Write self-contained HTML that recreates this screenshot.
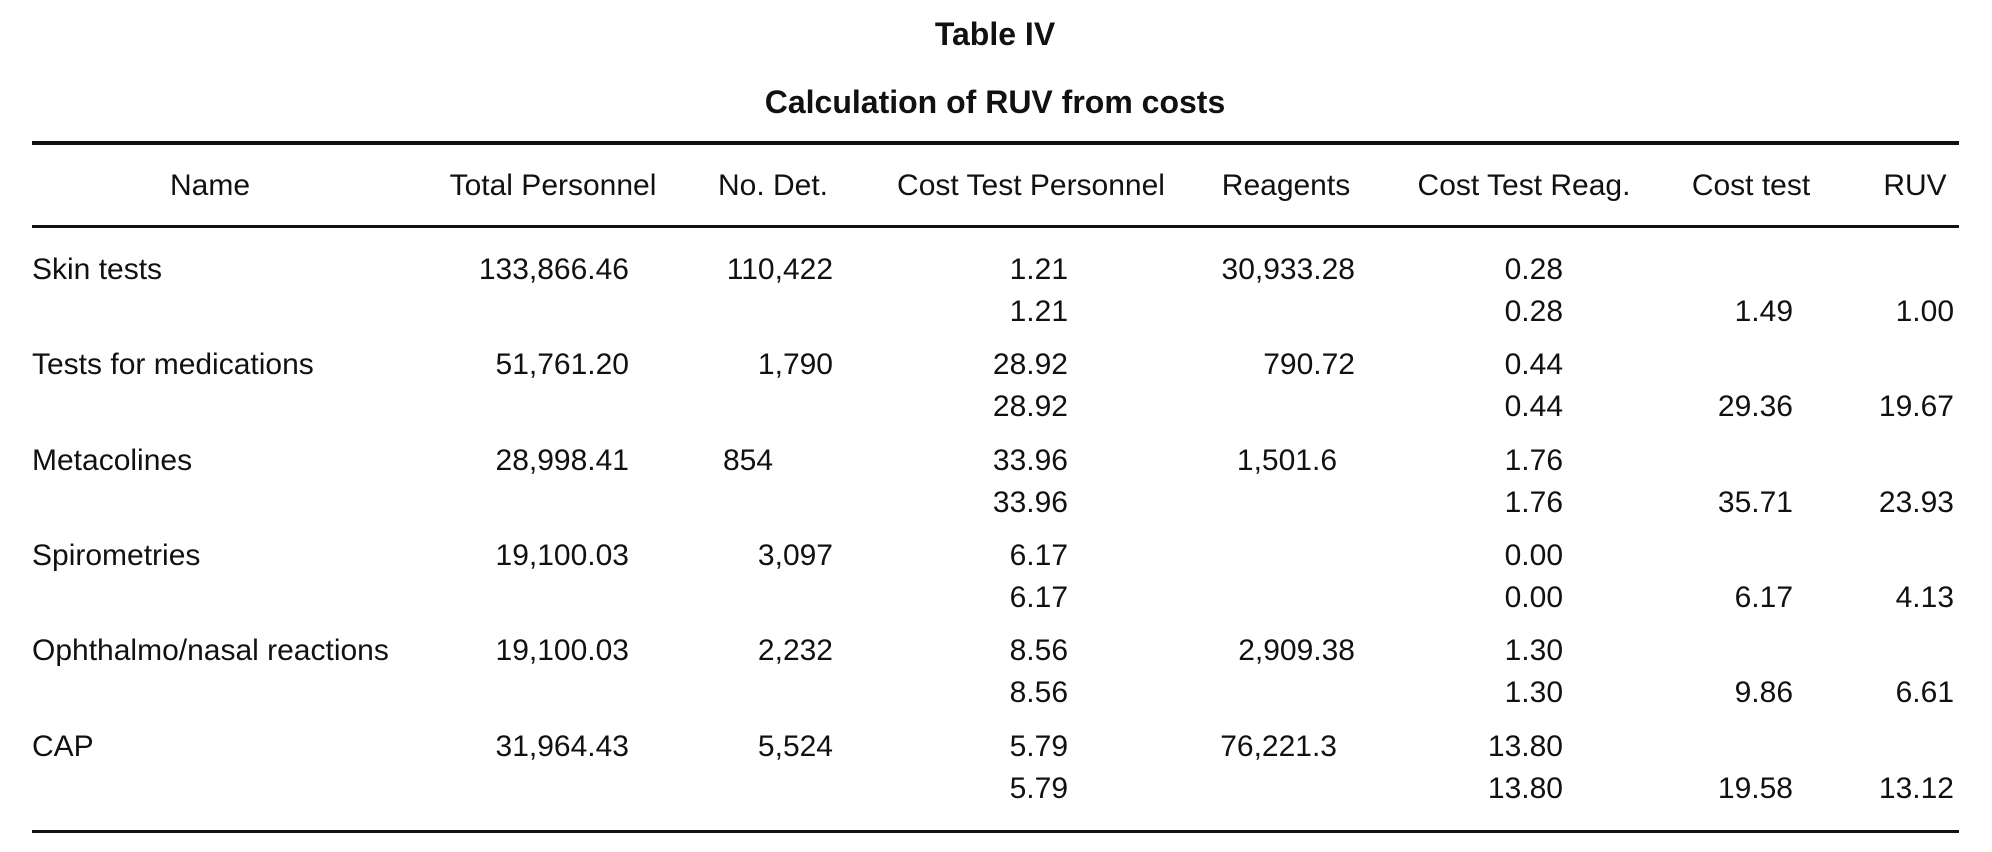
<!DOCTYPE html>
<html><head><meta charset="utf-8"><style>
body{margin:0;width:1992px;height:852px;background:#fff;position:relative;overflow:hidden;font-family:"Liberation Sans Narrow","Liberation Sans",sans-serif;color:#111}
.t{position:absolute;font-size:30px;line-height:30px;white-space:nowrap}
.r{text-align:right}
.c{transform:translateX(-50%)}
.b{font-weight:bold;font-family:"Liberation Sans",sans-serif;font-size:32px;line-height:32px}
.rule{position:absolute;left:32px;width:1927px;background:#111}
</style></head><body>
<div class="t b c" style="left:995px;top:18px">Table IV</div>
<div class="t b c" style="left:995px;top:86px">Calculation of RUV from costs</div>
<div class="rule" style="top:141px;height:4px"></div>
<div class="rule" style="top:225px;height:3px"></div>
<div class="rule" style="top:830px;height:3px"></div>
<div id="tbl"></div>
<script>
const headers=["Name","Total Personnel","No. Det.","Cost Test Personnel","Reagents","Cost Test Reag.","Cost test","RUV"];
const headerX=[210,553,773,1031,1286,1524,1751,1915];
const names=["Skin tests","Tests for medications","Metacolines","Spirometries","Ophthalmo/nasal reactions","CAP"];
const totalPersonnel=["133,866.46","51,761.20","28,998.41","19,100.03","19,100.03","31,964.43"];
const noDet=["110,422","1,790","854","3,097","2,232","5,524"];
const costTestPersonnel=["1.21","28.92","33.96","6.17","8.56","5.79"];
const reagents=["30,933.28","790.72","1,501.6","","2,909.38","76,221.3"];
const costTestReag=["0.28","0.44","1.76","0.00","1.30","13.80"];
const costTest=["1.49","29.36","35.71","6.17","9.86","19.58"];
const ruv=["1.00","19.67","23.93","4.13","6.61","13.12"];
const tbl=document.getElementById('tbl');
function add(txt,cls,style,name){
  const d=document.createElement('div');
  d.className='t '+cls;
  d.setAttribute('style',style);
  d.textContent=txt;
  
  
  tbl.appendChild(d);
}
headers.forEach((h,i)=>add(h,'c','left:'+headerX[i]+'px;top:171px','header-'+h.toLowerCase().replace(/[^a-z]+/g,'-')));
function R(x){return 'right:'+(1992-x)+'px;';}
names.forEach((n,i)=>{
  const y1=255+i*95.3, y2=y1+42;
  add(n,'','left:32px;top:'+y1+'px','row-name');
  add(totalPersonnel[i],'r',R(629)+'top:'+y1+'px','total-personnel-cell');
  if(noDet[i]==="854") add(noDet[i],'','left:723px;top:'+y1+'px','no-det-cell');
  else add(noDet[i],'r',R(833)+'top:'+y1+'px','no-det-cell');
  add(costTestPersonnel[i],'r',R(1068)+'top:'+y1+'px','cost-test-personnel-cell');
  add(costTestPersonnel[i],'r',R(1068)+'top:'+y2+'px','cost-test-personnel-cell');
  const rx=(reagents[i].split('.')[1]||'').length===1?1337:1355;
  if(reagents[i]) add(reagents[i],'r',R(rx)+'top:'+y1+'px','reagents-cell');
  add(costTestReag[i],'r',R(1563)+'top:'+y1+'px','cost-test-reag-cell');
  add(costTestReag[i],'r',R(1563)+'top:'+y2+'px','cost-test-reag-cell');
  add(costTest[i],'r',R(1793)+'top:'+y2+'px','cost-test-cell');
  add(ruv[i],'r',R(1954)+'top:'+y2+'px','ruv-cell');
});
</script>
</body></html>
